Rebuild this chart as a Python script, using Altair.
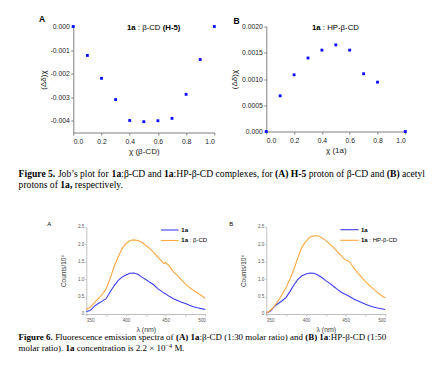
import altair as alt
import pandas as pd

# ---------------- Figure 5 : Job's plots ----------------
chi_a = [0.0, 0.1, 0.2, 0.3, 0.4, 0.5, 0.6, 0.7, 0.8, 0.9, 1.0]
dd_a = [0.0, -0.00123, -0.0022, -0.0031, -0.00399, -0.00404, -0.0040, -0.0039, -0.00288, -0.0014, 0.0]
chi_b = [0.0, 0.1, 0.2, 0.3, 0.4, 0.5, 0.6, 0.7, 0.8, 1.0]
dd_b = [0.0, 0.00068, 0.00108, 0.0014, 0.00155, 0.00165, 0.00155, 0.0011, 0.00094, 0.0]
chi_ticks = [0.0, 0.2, 0.4, 0.6, 0.8, 1.0]
dd_a_ticks = [0.0, -0.001, -0.002, -0.003, -0.004]
dd_b_ticks = [0.0, 0.0005, 0.001, 0.0015, 0.002]

# ---------------- Figure 6 : fluorescence spectra ----------------
wl = [350, 355, 360, 365, 370, 375, 380, 385, 390, 395, 400, 405, 410, 415, 420, 425,
      430, 435, 440, 445, 448, 450, 455, 460, 465, 470, 475, 480, 485, 490, 495, 500]
free_a = [0.07, 0.10, 0.22, 0.30, 0.37, 0.44, 0.63, 0.81, 0.96, 1.06, 1.12, 1.17, 1.18, 1.14, 1.06, 0.99,
          0.91, 0.84, 0.73, 0.65, 0.60, 0.58, 0.50, 0.44, 0.39, 0.34, 0.30, 0.25, 0.21, 0.18, 0.155, 0.13]
cplx_a = [0.14, 0.19, 0.32, 0.44, 0.56, 0.72, 1.01, 1.36, 1.63, 1.88, 2.02, 2.11, 2.13, 2.11, 2.06, 1.97,
          1.88, 1.77, 1.64, 1.52, 1.45, 1.48, 1.37, 1.21, 1.10, 0.98, 0.86, 0.76, 0.68, 0.61, 0.53, 0.45]
free_b = [0.03, 0.08, 0.21, 0.30, 0.38, 0.48, 0.65, 0.84, 1.00, 1.10, 1.15, 1.18, 1.17, 1.12, 1.05, 0.96,
          0.88, 0.79, 0.70, 0.62, 0.58, 0.56, 0.50, 0.43, 0.38, 0.33, 0.28, 0.24, 0.20, 0.17, 0.15, 0.13]
cplx_b = [0.03, 0.10, 0.22, 0.38, 0.57, 0.76, 1.01, 1.30, 1.63, 1.93, 2.09, 2.21, 2.25, 2.24, 2.19, 2.11,
          2.01, 1.91, 1.78, 1.66, 1.58, 1.56, 1.50, 1.33, 1.19, 1.06, 0.93, 0.82, 0.72, 0.62, 0.53, 0.46]
wl_ticks = [350, 375, 400, 425, 450, 475, 500]
cnt_ticks = [0.0, 0.5, 1.0, 1.5, 2.0, 2.5]
series = ["free", "complex"]            # internal keys (same in both spectra panels)
legend_a = ["1a", " : β-CD"]
legend_b = ["1a", " : HP-β-CD"]

SANS = "Liberation Sans"
SERIF = "Liberation Serif"
PT_BLUE = "#0a0aff"
LINE_BLUE = "#3c3cf5"
LINE_ORANGE = "#ffa63f"

# approximate advance widths (1/1000 em) used only to chain mixed-weight text runs
SERIF_R = {" ": 250, "’": 333, "(": 333, ")": 333, ",": 250, "-": 333, ".": 250, ":": 278,
           "×": 564, "β": 500, "−": 564,
           "A": 722, "B": 667, "C": 667, "D": 722, "F": 556, "H": 722, "J": 389, "M": 889, "P": 556,
           "a": 444, "b": 500, "c": 444, "d": 500, "e": 444, "f": 333, "g": 500, "h": 500, "i": 278,
           "l": 278, "m": 778, "n": 500, "o": 500, "p": 500, "r": 333, "s": 389, "t": 278, "u": 500,
           "v": 500, "x": 500, "y": 500}
SERIF_B = {" ": 250, "(": 333, ")": 333, ",": 250, "-": 333, ".": 250, ":": 333,
           "A": 722, "B": 667, "F": 611, "H": 778, "a": 500, "e": 444, "g": 500, "i": 278,
           "r": 444, "u": 556}
SANS_R = {" ": 278, ":": 278, "(": 333, ")": 333, "-": 333, ".": 278, "β": 575,
          "C": 722, "D": 722, "H": 722, "P": 667, "a": 556}
SANS_B = {" ": 278, "(": 333, ")": 333, "-": 333, "H": 722, "a": 556}


def adv(s, table, size):
    default = 500 if table in (SERIF_R, SERIF_B) else 556
    return sum(table.get(ch, default) for ch in s) * size / 1000.0


def one(txt, x, y, size, font, bold=False, align="left", baseline="alphabetic", color="#000000"):
    return alt.Chart(pd.DataFrame({"t": [txt]})).mark_text(
        align=align, baseline=baseline, font=font, fontSize=size,
        fontWeight="bold" if bold else "normal", color=color
    ).encode(x=alt.value(x), y=alt.value(y), text="t:N")


def runs(parts, x0, y, size, font, origin, baseline="alphabetic", color="#000000"):
    ox, oy = origin
    serif = font == SERIF
    layers = []
    x = x0
    for txt, bold, *extra in parts:
        table = (SERIF_B if bold else SERIF_R) if serif else (SANS_B if bold else SANS_R)
        sz = size
        dy = 0
        if extra:
            sz, dy = extra[0]
        lead = len(txt) - len(txt.lstrip(" "))
        xs = x + adv(" " * lead, table, sz)
        if txt.strip():
            layers.append(one(txt.strip(), xs - ox, y + dy - oy, sz, font, bold, "left", baseline, color))
        x += adv(txt, table, sz)
    return layers


# ---------------- panel geometry (page pixels) ----------------
OA = (73, 26.5)      # Job plot A plot origin
OB = (266, 26.5)     # Job plot B plot origin
OC = (73, 227)       # spectrum A group origin (axis offset inside)
OD = (266, 227)      # spectrum B plot origin

top_x_axis = dict(values=chi_ticks, format=".1f", labelFont=SANS, labelFontSize=6.8, labelColor="#1a1a1a",
                  titleFont=SANS, titleFontSize=8, titleFontWeight="normal", titleColor="#1a1a1a",
                  domainColor="#7f7f7f", tickColor="#7f7f7f", tickSize=2.5, labelPadding=3.5,
                  titlePadding=2, grid=False)
top_y_axis = dict(labelFont=SANS, labelFontSize=6.8, labelColor="#1a1a1a",
                  titleFont=SANS, titleFontSize=8, titleFontWeight="normal", titleColor="#1a1a1a",
                  domainColor="#7f7f7f", tickColor="#7f7f7f", tickSize=2.5, labelPadding=1.5,
                  titlePadding=3, grid=False)

# ---- Panel A (Job plot, β-CD) ----
ptsA = alt.Chart(pd.DataFrame({"chi": chi_a, "dd": dd_a})).mark_square(size=8, color=PT_BLUE, opacity=1).encode(
    x=alt.X("chi:Q", scale=alt.Scale(domain=[0, 1], nice=False, zero=False),
            axis=alt.Axis(title="χ (β-CD)", **top_x_axis)),
    y=alt.Y("dd:Q", scale=alt.Scale(domain=[-0.0045, 0], nice=False, zero=False),
            axis=alt.Axis(values=dd_a_ticks, title="(Δδ)χ",
                          labelExpr="replace(format(datum.value, '.3f'), '\u2212', '-')", **top_y_axis)),
)
layersA = [ptsA]
layersA.append(one("A", 41.7 - OA[0], 14.5 - OA[1], 8.5, SANS, True, "center", "top"))
layersA += runs([("1a", True), (" : β-CD ", False), ("(H-5)", True)], 126.7, 28, 7.8, SANS, OA, "middle")
layersA += runs([("Figure 5.", True), (" Job’s plot for ", False), ("1a", True), (":β-CD and ", False),
                 ("1a", True), (":HP-β-CD complexes, for ", False), ("(A) H-5", True),
                 (" proton of β-CD and ", False), ("(B)", True), (" acetyl", False)],
                18.3, 177, 9.62, SERIF, OA)
layersA += runs([("protons of ", False), ("1a,", True), (" respectively.", False)], 18.3, 188.5, 9.62, SERIF, OA)
panelA = alt.layer(*layersA).properties(width=141, height=106)

# ---- Panel B (Job plot, HP-β-CD) ----
ptsB = alt.Chart(pd.DataFrame({"chi": chi_b, "dd": dd_b})).mark_square(size=8, color=PT_BLUE, opacity=1).encode(
    x=alt.X("chi:Q", scale=alt.Scale(domain=[0, 1], nice=False, zero=False),
            axis=alt.Axis(title="χ (1a)", **top_x_axis)),
    y=alt.Y("dd:Q", scale=alt.Scale(domain=[0, 0.002], nice=False, zero=False),
            axis=alt.Axis(values=dd_b_ticks, title="(Δδ)χ",
                          labelExpr="datum.value == 0 ? '0.000' : format(datum.value, '.4f')", **top_y_axis)),
)
layersB = [ptsB]
layersB.append(one("B", 236.3 - OB[0], 17.3 - OB[1], 8.5, SANS, True, "center", "top"))
layersB += runs([("1a", True), (" : HP-β-CD", False)], 311.7, 28, 7.8, SANS, OB, "middle")
panelB = alt.layer(*layersB).properties(width=139, height=105)

# ---- spectra helpers ----
bot_x_axis = dict(values=wl_ticks, labelExpr="datum.value % 50 == 0 ? format(datum.value, 'd') : ''",
                  title="λ (nm)", labelFont=SANS, labelFontSize=4.6, labelColor="#595959",
                  titleFont=SANS, titleFontSize=7, titleFontWeight="normal", titleColor="#404040",
                  domainColor="#bfbfbf", tickColor="#bfbfbf", tickSize=2, labelPadding=1.5,
                  titlePadding=3, grid=False)
bot_y_axis = dict(values=cnt_ticks, labelExpr="datum.value == 0 ? '0' : format(datum.value, '.1f')",
                  title="Counts/10⁶", labelFont=SANS, labelFontSize=4.6, labelColor="#595959",
                  titleFont=SANS, titleFontSize=6.5, titleFontWeight="normal", titleColor="#404040",
                  domainColor="#bfbfbf", tickColor="#bfbfbf", tickSize=1.5, labelPadding=1,
                  titlePadding=11, grid=False)


def spectra(free, cplx, x_range, y_offset):
    df = pd.DataFrame({"wl": wl * 2, "v": free + cplx, "s": [series[0]] * len(wl) + [series[1]] * len(wl)})
    return alt.Chart(df).mark_line(strokeWidth=1.1).encode(
        x=alt.X("wl:Q", scale=alt.Scale(domain=[350, 500], range=x_range, nice=False, zero=False),
                axis=alt.Axis(**bot_x_axis)),
        y=alt.Y("v:Q", scale=alt.Scale(domain=[0, 2.5], nice=False, zero=False),
                axis=alt.Axis(offset=y_offset, **bot_y_axis)),
        color=alt.Color("s:N", scale=alt.Scale(domain=series, range=[LINE_BLUE, LINE_ORANGE]), legend=None),
        detail="s:N",
    )


def key_line(x1, x2, y, color):
    return alt.Chart(pd.DataFrame({"k": [0]})).mark_rule(color=color, strokeWidth=1.1).encode(
        x=alt.value(x1), x2=alt.value(x2), y=alt.value(y))


# ---- Panel C (spectra, β-CD) ----
layersC = [spectra(free_a, cplx_a, [13, 132], -13)]
layersC.append(key_line(160.7 - OC[0], 178.3 - OC[0], 230 - OC[1], LINE_BLUE))
layersC.append(key_line(160.7 - OC[0], 178.3 - OC[0], 240.5 - OC[1], LINE_ORANGE))
layersC += runs([(legend_a[0], True)], 181, 230, 6, SANS, OC, "middle")
layersC += runs([(legend_a[0], True), (legend_a[1], False)], 181, 240.5, 6, SANS, OC, "middle")
layersC.append(one("A", 49 - OC[0], 224 - OC[1], 6, SANS, False, "center", "middle"))
layersC += runs([("Figure 6.", True), (" Fluorescence emission spectra of ", False), ("(A) 1a", True),
                 (":β-CD (1:30 molar ratio) and ", False), ("(B) 1a", True), (":HP-β-CD (1:50", False)],
                18.3, 340, 8.95, SERIF, OC)
layersC += runs([("molar ratio). ", False), ("1a", True), (" concentration is 2.2 × 10", False),
                 ("−4", False, (6.2, -3.4)), (" M.", False)], 18.3, 351.5, 8.95, SERIF, OC)
panelC = alt.layer(*layersC).properties(width=132, height=87)

# ---- Panel D (spectra, HP-β-CD) ----
layersD = [spectra(free_b, cplx_b, [0, 119], 0)]
layersD.append(key_line(340 - OD[0], 358.3 - OD[0], 229.7 - OD[1], LINE_BLUE))
layersD.append(key_line(340 - OD[0], 358.3 - OD[0], 240.3 - OD[1], LINE_ORANGE))
layersD += runs([(legend_b[0], True)], 360.7, 229.7, 6, SANS, OD, "middle")
layersD += runs([(legend_b[0], True), (legend_b[1], False)], 360.7, 240.3, 6, SANS, OD, "middle")
layersD.append(one("B", 231 - OD[0], 224 - OD[1], 6, SANS, False, "center", "middle"))
panelD = alt.layer(*layersD).properties(width=119, height=87)

chart = alt.concat(
    panelA, panelB, panelC, panelD,
    columns=2, spacing={"row": 94.5, "column": 52}, bounds="flush",
).properties(
    padding={"left": 18.3, "top": 14.5, "right": 4, "bottom": 4},
    background="white",
).configure_view(strokeWidth=0)

chart.save("out.html", embed_options={"renderer": "svg", "actions": False})
